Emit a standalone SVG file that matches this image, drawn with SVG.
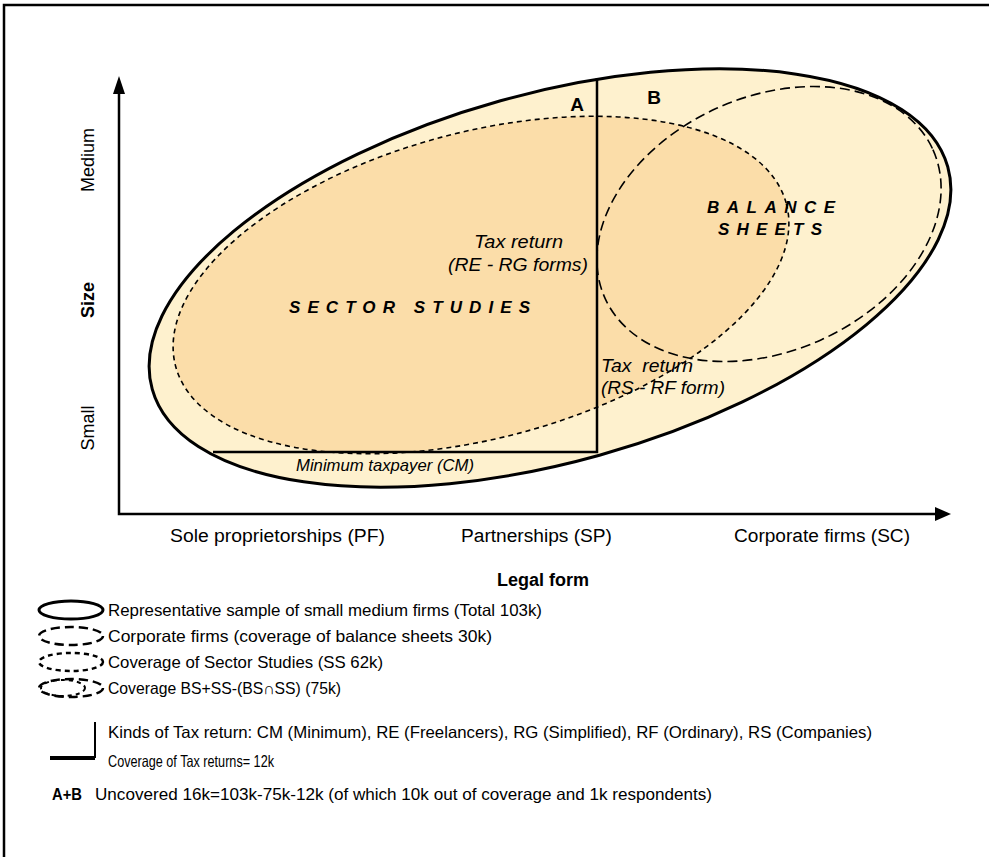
<svg xmlns="http://www.w3.org/2000/svg" width="989" height="857" viewBox="0 0 989 857">
<defs>
<style>
text{font-family:"Liberation Sans",Arial,sans-serif;fill:#000}
.it{font-style:italic}
.b{font-weight:bold}
.sp{font-weight:bold;font-style:italic;font-size:17px}
.lg{font-size:16.5px}
.ax{font-size:18px}
</style>
</defs>
<rect x="0" y="0" width="989" height="857" fill="#fff"/>
<rect x="4" y="5" width="1000" height="880" fill="none" stroke="#000" stroke-width="2.5"/>

<g id="total">
<ellipse cx="550" cy="278" rx="413" ry="184" transform="rotate(-15.6 550 278)" fill="#FEF1CE" stroke="#000" stroke-width="3"/>
</g>
<g id="sector-studies">
<ellipse cx="481" cy="285" rx="316" ry="153" transform="rotate(-14.9 481 285)" fill="#FBDDA9" stroke="#000" stroke-width="1.6" stroke-dasharray="5,4"/>
<text class="sp" x="289" y="313" textLength="241" lengthAdjust="spacing">SECTOR STUDIES</text>
</g>
<g id="balance-sheets">
<ellipse cx="769" cy="224" rx="180" ry="127" transform="rotate(-24.4 769 224)" fill="none" stroke="#000" stroke-width="1.6" stroke-dasharray="10,5"/>
<text class="sp" x="707" y="213" textLength="128" lengthAdjust="spacing">BALANCE</text>
<text class="sp" x="718" y="235" textLength="104" lengthAdjust="spacing">SHEETS</text>
</g>
<g id="tax-returns">
<path d="M597,78 L597,452 L213,452" fill="none" stroke="#000" stroke-width="2.5"/>
<text class="it" x="474" y="248" font-size="18" textLength="89" lengthAdjust="spacingAndGlyphs">Tax return</text>
<text class="it" x="448" y="271" font-size="18" textLength="140" lengthAdjust="spacingAndGlyphs">(RE - RG forms)</text>
<text class="it" x="601" y="372" font-size="18" textLength="92" lengthAdjust="spacingAndGlyphs" xml:space="preserve">Tax  return</text>
<text class="it" x="601" y="394" font-size="18" textLength="124" lengthAdjust="spacingAndGlyphs">(RS - RF form)</text>
<text class="it" x="296" y="471" font-size="16.5" textLength="178" lengthAdjust="spacingAndGlyphs">Minimum taxpayer (CM)</text>
</g>
<g id="labels-AB">
<text class="b" x="577" y="111" font-size="19" text-anchor="middle">A</text>
<text class="b" x="654" y="104" font-size="19" text-anchor="middle">B</text>
</g>

<g id="axes">
<path d="M119,88 L119,514 L940,514" fill="none" stroke="#000" stroke-width="2.5"/>
<path d="M119,76 L113,94 L125,94 z" fill="#000"/>
<path d="M951,514 L935,507 L935,521 z" fill="#000"/>
</g>
<g id="axis-labels">
<text class="ax" x="170" y="542" textLength="215" lengthAdjust="spacingAndGlyphs">Sole proprietorships (PF)</text>
<text class="ax" x="461" y="542" textLength="151" lengthAdjust="spacingAndGlyphs">Partnerships (SP)</text>
<text class="ax" x="734" y="542" textLength="176" lengthAdjust="spacingAndGlyphs">Corporate firms (SC)</text>
<text class="ax b" x="543" y="586" text-anchor="middle">Legal form</text>
<text class="ax" transform="translate(94 160) rotate(-90)" text-anchor="middle">Medium</text>
<text class="ax b" transform="translate(94 300) rotate(-90)" text-anchor="middle">Size</text>
<text class="ax" transform="translate(94 428) rotate(-90)" text-anchor="middle">Small</text>
</g>

<g id="legend">
<ellipse cx="71" cy="610" rx="32" ry="9" fill="none" stroke="#000" stroke-width="3"/>
<text class="lg" x="108" y="616" textLength="434" lengthAdjust="spacingAndGlyphs">Representative sample of small medium firms (Total 103k)</text>
<ellipse cx="71" cy="636" rx="32" ry="9" fill="none" stroke="#000" stroke-width="2.5" stroke-dasharray="9,5"/>
<text class="lg" x="108" y="642" textLength="384" lengthAdjust="spacingAndGlyphs">Corporate firms (coverage of balance sheets 30k)</text>
<ellipse cx="71" cy="662" rx="32" ry="9" fill="none" stroke="#000" stroke-width="2.5" stroke-dasharray="5,4"/>
<text class="lg" x="108" y="668" textLength="275" lengthAdjust="spacingAndGlyphs">Coverage of Sector Studies (SS 62k)</text>
<ellipse cx="71" cy="688" rx="32" ry="9" fill="none" stroke="#000" stroke-width="2.5" stroke-dasharray="9,5"/>
<ellipse cx="63" cy="688" rx="22" ry="8" fill="none" stroke="#000" stroke-width="2" stroke-dasharray="4,4"/>
<text class="lg" x="108" y="694" textLength="233" lengthAdjust="spacingAndGlyphs">Coverage BS+SS-(BS∩SS) (75k)</text>
<path d="M95,722 L95,758" fill="none" stroke="#000" stroke-width="2"/>
<path d="M50,758 L95,758" stroke="#000" stroke-width="4"/>
<text class="lg" x="108" y="738" textLength="764" lengthAdjust="spacingAndGlyphs">Kinds of Tax return: CM (Minimum), RE (Freelancers), RG (Simplified), RF (Ordinary), RS (Companies)</text>
<text class="lg" x="108" y="767" textLength="166" lengthAdjust="spacingAndGlyphs">Coverage of Tax returns= 12k</text>
<text class="lg b" x="52" y="800" textLength="30" lengthAdjust="spacingAndGlyphs">A+B</text>
<text class="lg" x="95" y="800" textLength="617" lengthAdjust="spacingAndGlyphs">Uncovered 16k=103k-75k-12k (of which 10k out of coverage and 1k respondents)</text>
</g>
</svg>
